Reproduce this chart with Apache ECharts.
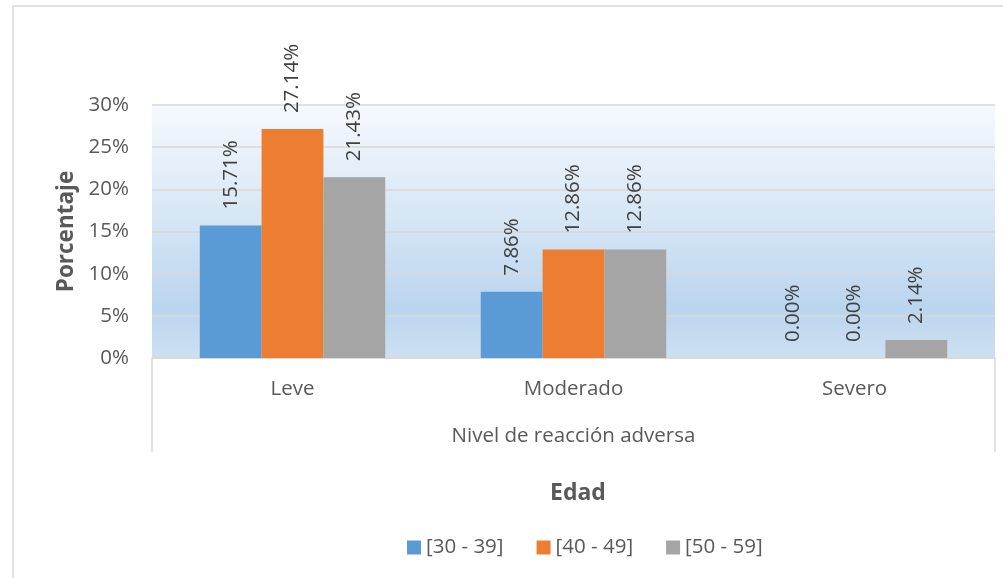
<!DOCTYPE html>
<html>
<head>
<meta charset="utf-8">
<script src="https://cdn.jsdelivr.net/npm/echarts@6/dist/echarts.min.js"></script>
<style>
  html, body { margin: 0; padding: 0; background: #fff; }
  #chart { width: 1003px; height: 578px; }
</style>
</head>
<body>
<div id="chart"></div>
<script>
// datos
const categorias = ['Leve', 'Moderado', 'Severo']
const grupoEje = ['Nivel de reacción adversa']
const edades = ['[30 - 39]', '[40 - 49]', '[50 - 59]']
const edad30 = [15.71, 7.86, 0]
const edad40 = [27.14, 12.86, 0]
const edad50 = [21.43, 12.86, 2.14]
const colores = ['#5b9bd5', '#ed7d31', '#a5a5a5']

const fuente = '"Open Sans", "Noto Sans", sans-serif'
const gris = '#595959'
const tam = 20.5

let myChart = echarts.init(document.getElementById('chart'))

function serie (nombre, datos) {
  return {
    name: nombre,
    type: 'bar',
    data: datos,
    barGap: 0,
    barCategoryGap: '34%',
    label: {
      show: true,
      position: 'top',
      rotate: 90,
      align: 'left',
      verticalAlign: 'middle',
      distance: 16,
      color: '#404040',
      fontFamily: fuente,
      fontSize: tam,
      formatter: p => p.value.toFixed(2) + '%'
    }
  }
}

myChart.setOption({
  animation: false,
  color: colores,
  textStyle: { fontFamily: fuente },
  title: {
    text: 'Edad',
    left: 545,
    top: 477,
    textStyle: { color: gris, fontSize: 23, fontWeight: 'bold', fontFamily: fuente }
  },
  legend: {
    data: edades,
    left: 402,
    top: 532,
    itemWidth: 14,
    itemHeight: 14,
    itemGap: 33,
    icon: 'rect',
    textStyle: { color: gris, fontSize: tam, fontFamily: fuente }
  },
  grid: {
    left: 152,
    right: 8,
    top: 105,
    bottom: 220,
    show: true,
    borderWidth: 0,
    backgroundColor: new echarts.graphic.LinearGradient(0, 0, 0, 1, [
      { offset: 0, color: '#f6f9fd' },
      { offset: 0.45, color: '#d6e6f5' },
      { offset: 0.8, color: '#bad5ee' },
      { offset: 1, color: '#cde0f2' }
    ])
  },
  graphic: [{
    type: 'rect',
    shape: { x: 13, y: 6, width: 1000, height: 600 },
    style: { fill: 'none', stroke: '#d9d9d9', lineWidth: 1.5 },
    silent: true,
    z: 100
  }],
  xAxis: [{
    type: 'category',
    data: categorias,
    axisLine: { lineStyle: { color: '#d9d9d9', width: 1.5 } },
    axisTick: { show: false },
    axisLabel: { color: gris, fontSize: tam, margin: 21, fontFamily: fuente }
  }, {
    type: 'category',
    data: grupoEje,
    position: 'bottom',
    axisLine: { show: false },
    axisTick: { show: true, length: 94, lineStyle: { color: '#d9d9d9', width: 1.5 } },
    axisLabel: { color: gris, fontSize: tam, margin: 68, fontFamily: fuente }
  }],
  yAxis: {
    type: 'value',
    min: 0,
    max: 30,
    interval: 5,
    name: 'Porcentaje',
    nameLocation: 'middle',
    nameGap: 74,
    nameTextStyle: { color: gris, fontSize: 22.5, fontWeight: 'bold', fontFamily: fuente },
    axisLine: { show: false },
    axisTick: { show: false },
    axisLabel: { color: gris, fontSize: tam, margin: 23, formatter: '{value}%', fontFamily: fuente },
    splitLine: { lineStyle: { color: '#d9d9d9', width: 1.5 } }
  },
  series: [
    serie(edades[0], edad30),
    serie(edades[1], edad40),
    serie(edades[2], edad50)
  ]
})
</script>
</body>
</html>
